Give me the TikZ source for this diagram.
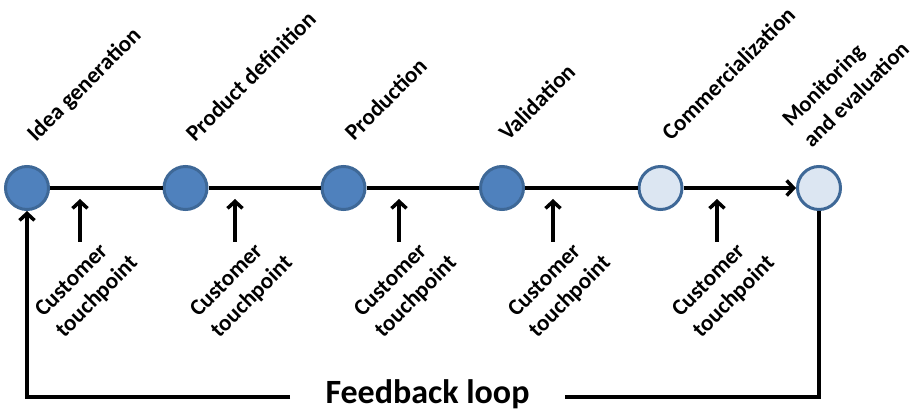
\documentclass[tikz,border=0pt]{standalone}
\usepackage{fontspec}
\setmainfont{Carlito}
\usetikzlibrary{arrows.meta}
\definecolor{darkfill}{HTML}{4F81BD}
\definecolor{lightfill}{HTML}{DCE6F2}
\definecolor{ringcol}{HTML}{3E6897}
\begin{document}
\begin{tikzpicture}[x=1pt,y=-1pt,
  stage/.style={circle,draw=ringcol,line width=3pt,minimum size=43pt,inner sep=0pt},
  done/.style={stage,fill=darkfill},
  todo/.style={stage,fill=lightfill},
  conn/.style={line width=3.5pt,draw=black},
  tip/.style={-{Straight Barb[length=7pt,width=15pt]}},
  toplabel/.style={rotate=45,anchor=base west,inner sep=0pt,font=\bfseries\fontsize{23}{29.5}\selectfont},
  touch/.style={rotate=45,align=left,inner sep=0pt,font=\bfseries\fontsize{23}{29.5}\selectfont},
  looplabel/.style={inner sep=0pt,anchor=base,font=\bfseries\fontsize{34}{40}\selectfont}]
\useasboundingbox (0,0) rectangle (915,411);
% stages
\node[done] (c1) at (27,188) {};
\node[done] (c2) at (185.5,188) {};
\node[done] (c3) at (343.5,188) {};
\node[done] (c4) at (502,188) {};
\node[todo] (c5) at (660.5,188) {};
\node[todo] (c6) at (819,188) {};
% main line
\draw[conn] (c1) -- (c2);
\draw[conn] (c2) -- (c3);
\draw[conn] (c3) -- (c4);
\draw[conn] (c4) -- (c5);
\draw[conn,tip] (c5) -- (c6);
% stage labels
\node[toplabel] (l1) at (36,143) {Idea generation};
\node[toplabel] (l2) at (195,143) {Product definition};
\node[toplabel] (l3) at (354,142) {Production};
\node[toplabel] (l4) at (508,142) {Validation};
\node[toplabel] (l5) at (671,142) {Commercialization};
\node[touch,anchor=west,font=\bfseries\fontsize{22.5}{29.5}\selectfont] (l6) at (796,133) {Monitoring\\and evaluation};
% customer touchpoints
\foreach \i/\x in {1/80,2/235,3/399,4/553,5/717}{
  \coordinate (tb\i) at (\x,242);
  \coordinate (ta\i) at (\x,199);
  \draw[conn,tip] (tb\i) -- (ta\i);
  \node[touch] (tp\i) at (\x+7,287) {Customer\\touchpoint};
}
% feedback loop
\node[looplabel] (fb) at (427.5,403) {Feedback loop};
\coordinate (fr) at (565,397);
\coordinate (fl) at (290,397);
\draw[conn] (c6.south) |- (fr);
\draw[conn,tip] (fl) -| (c1.south);
\end{tikzpicture}
\end{document}
